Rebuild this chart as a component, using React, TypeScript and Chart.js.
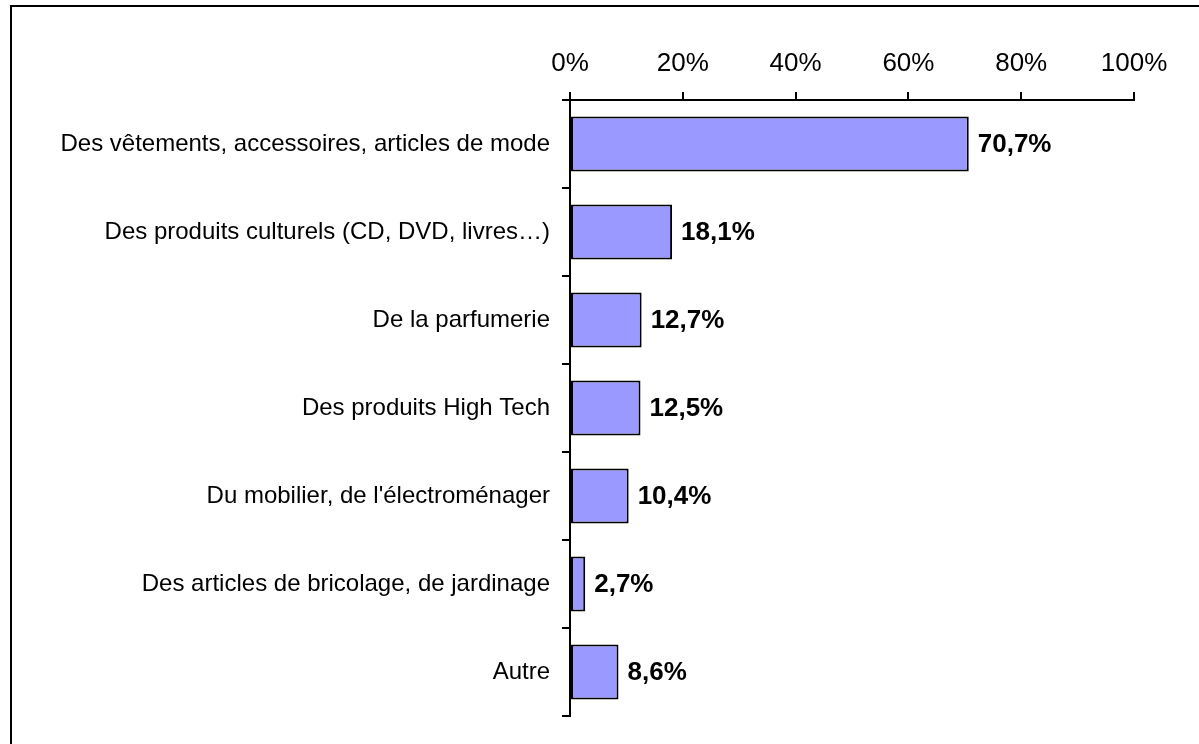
import React, { useEffect, useRef } from "react";
import { Chart, registerables } from "chart.js";

Chart.register(...registerables);

const categories = [
  "Des vêtements, accessoires, articles de mode",
  "Des produits culturels (CD, DVD, livres…)",
  "De la parfumerie",
  "Des produits High Tech",
  "Du mobilier, de l'électroménager",
  "Des articles de bricolage, de jardinage",
  "Autre",
];
const values = [70.7, 18.1, 12.7, 12.5, 10.4, 2.7, 8.6];
const tickValues = [0, 20, 40, 60, 80, 100];

const FONT = "'Liberation Sans', Arial, sans-serif";

const framePlugin = {
  id: "frame",
  beforeDraw(chart: any) {
    const ctx = chart.ctx;
    ctx.save();
    ctx.fillStyle = "#ffffff";
    ctx.fillRect(0, 0, chart.width, chart.height);
    ctx.strokeStyle = "#000000";
    ctx.lineWidth = 2;
    ctx.strokeRect(11, 6, chart.width + 20, chart.height + 20);
    ctx.restore();
  },
};

const labelPlugin = {
  id: "valueLabels",
  afterDatasetsDraw(chart: any) {
    const ctx = chart.ctx;
    const meta = chart.getDatasetMeta(0);
    ctx.save();
    ctx.fillStyle = "#000000";
    ctx.font = `bold 26px ${FONT}`;
    ctx.textAlign = "left";
    ctx.textBaseline = "middle";
    meta.data.forEach((bar: any, i: number) => {
      const txt = values[i].toFixed(1).replace(".", ",") + "%";
      ctx.fillText(txt, bar.x + 9, bar.y + 1);
    });
    ctx.restore();
  },
};

export default function App() {
  const ref = useRef<HTMLCanvasElement>(null);
  useEffect(() => {
    if (!ref.current) return;
    const chart = new Chart(ref.current, {
      type: "bar",
      data: {
        labels: categories,
        datasets: [
          {
            data: values,
            backgroundColor: "#9999FF",
            borderColor: "#000000",
            borderWidth: 2,
            borderSkipped: false,
            categoryPercentage: 1,
            barPercentage: 0.625,
          },
        ],
      },
      options: {
        indexAxis: "y",
        animation: false,
        responsive: false,
        maintainAspectRatio: false,
        layout: { padding: { left: 0, right: 65, top: 0, bottom: 28 } },
        plugins: {
          legend: { display: false },
          tooltip: { enabled: false },
        },
        scales: {
          x: {
            position: "top",
            min: 0,
            max: 100,
            afterBuildTicks(axis: any) {
              axis.ticks = tickValues.map((v) => ({ value: v }));
            },
            afterFit(axis: any) {
              axis.height = 100;
            },
            ticks: {
              callback: (v: any) => v + "%",
              color: "#000000",
              font: { family: FONT, size: 26 },
              padding: 13,
              maxRotation: 0,
            },
            grid: {
              drawOnChartArea: false,
              drawTicks: true,
              tickLength: 8,
              color: "#000000",
              lineWidth: 2,
            },
            border: { display: true, color: "#000000", width: 2 },
          },
          y: {
            afterFit(axis: any) {
              axis.width = 570;
            },
            ticks: {
              color: "#000000",
              font: { family: FONT, size: 24 },
              padding: 12,
            },
            grid: {
              drawOnChartArea: false,
              drawTicks: true,
              tickLength: 8,
              color: "#000000",
              lineWidth: 2,
              offset: true,
            },
            border: { display: true, color: "#000000", width: 2 },
          },
        },
      },
      plugins: [framePlugin, labelPlugin],
    });
    return () => chart.destroy();
  }, []);
  return (
    <div style={{ position: "fixed", left: 0, top: 0, width: 1199, height: 744, background: "#fff" }}>
      <canvas ref={ref} width={1199} height={744} style={{ display: "block", width: 1199, height: 744 }} />
    </div>
  );
}
